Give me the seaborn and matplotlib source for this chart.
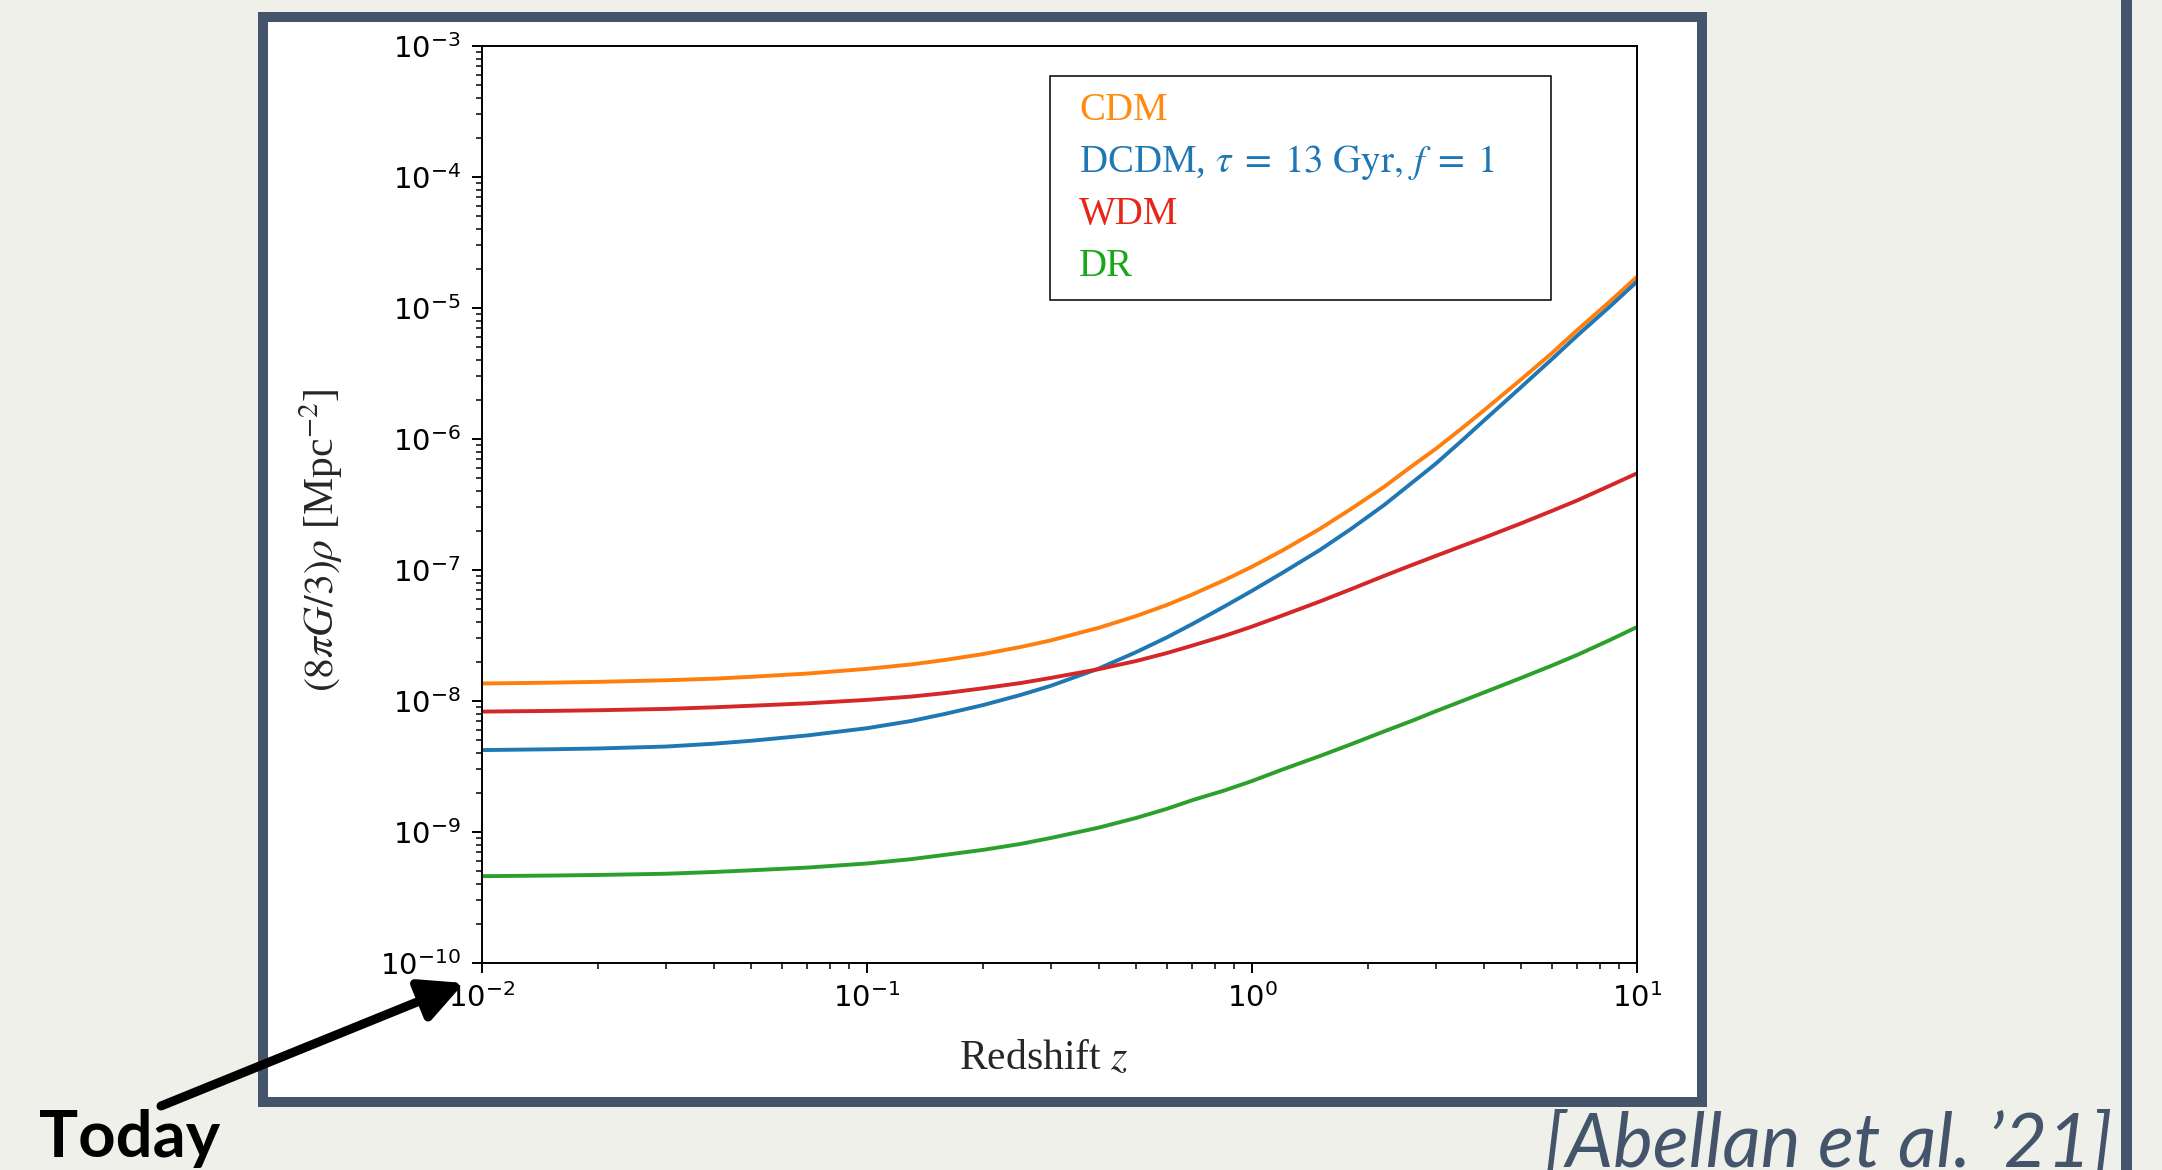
import pandas as pd
import seaborn as sns
import matplotlib.pyplot as plt
from matplotlib.patches import Rectangle, FancyArrowPatch

# values
redshift = [0.01, 0.015, 0.02, 0.03, 0.04, 0.05, 0.07, 0.1, 0.13, 0.16, 0.2,
            0.25, 0.3, 0.4, 0.5, 0.6, 0.7, 0.85, 1.0, 1.2, 1.5, 1.8, 2.2,
            2.6, 3.0, 3.5, 4.0, 5.0, 6.0, 7.0, 8.5, 10.0]
rho_cdm = [1.36e-8, 1.38e-8, 1.40e-8, 1.44e-8, 1.48e-8, 1.53e-8, 1.62e-8,
           1.76e-8, 1.90e-8, 2.06e-8, 2.28e-8, 2.58e-8, 2.90e-8, 3.62e-8,
           4.45e-8, 5.4e-8, 6.5e-8, 8.4e-8, 1.06e-7, 1.41e-7, 2.06e-7,
           2.9e-7, 4.3e-7, 6.2e-7, 8.4e-7, 1.2e-6, 1.65e-6, 2.85e-6,
           4.5e-6, 6.8e-6, 1.12e-5, 1.73e-5]
rho_dcdm = [4.22e-9, 4.28e-9, 4.34e-9, 4.49e-9, 4.72e-9, 4.97e-9, 5.46e-9,
            6.2e-9, 7.03e-9, 7.99e-9, 9.3e-9, 1.11e-8, 1.305e-8, 1.77e-8,
            2.36e-8, 3.05e-8, 3.87e-8, 5.29e-8, 6.94e-8, 9.52e-8, 1.42e-7,
            2.04e-7, 3.12e-7, 4.62e-7, 6.47e-7, 9.66e-7, 1.38e-6, 2.49e-6,
            4.05e-6, 6.17e-6, 1.025e-5, 1.59e-5]
rho_wdm = [8.3e-9, 8.4e-9, 8.5e-9, 8.7e-9, 8.95e-9, 9.2e-9, 9.6e-9, 1.02e-8,
           1.08e-8, 1.15e-8, 1.25e-8, 1.37e-8, 1.50e-8, 1.75e-8, 2.02e-8,
           2.32e-8, 2.65e-8, 3.15e-8, 3.7e-8, 4.5e-8, 5.75e-8, 7.1e-8,
           9.0e-8, 1.09e-7, 1.28e-7, 1.52e-7, 1.76e-7, 2.27e-7, 2.82e-7,
           3.4e-7, 4.4e-7, 5.47e-7]
rho_dr = [4.6e-10, 4.65e-10, 4.7e-10, 4.8e-10, 4.95e-10, 5.1e-10, 5.35e-10,
          5.75e-10, 6.2e-10, 6.7e-10, 7.3e-10, 8.1e-10, 9.0e-10, 1.08e-9,
          1.28e-9, 1.5e-9, 1.75e-9, 2.08e-9, 2.45e-9, 3.0e-9, 3.8e-9,
          4.65e-9, 5.85e-9, 7.05e-9, 8.35e-9, 9.95e-9, 1.16e-8, 1.5e-8,
          1.86e-8, 2.25e-8, 2.92e-8, 3.67e-8]

models = ["CDM", "DCDM", "WDM", "DR"]
labels = ["CDM",
          r"DCDM, $\tau\;=\;13\ \mathrm{Gyr},\, f\;=\;1$",
          "WDM", "DR"]
line_colors = ["#ff7f0e", "#1f77b4", "#d62728", "#2ca02c"]
text_colors = ["#ff8c10", "#1f77b4", "#e8251a", "#1aa81a"]

df = pd.concat([
    pd.DataFrame({"z": redshift, "rho": vals, "model": m})
    for m, vals in zip(models, [rho_cdm, rho_dcdm, rho_wdm, rho_dr])
])

sns.set_style("ticks")
plt.rcParams["font.family"] = ["DejaVu Sans"]

slate = "#44546A"
W, H = 2162, 1170
fig = plt.figure(figsize=(W / 100, H / 100), dpi=100, facecolor="#F0F0EB")

# slide frame and side bar
fig.add_artist(Rectangle((263 / W, 1 - 1102 / H), (1702 - 263) / W, (1102 - 17) / H,
                         transform=fig.transFigure, facecolor="white",
                         edgecolor=slate, lw=7.2, zorder=-5))
fig.add_artist(Rectangle((2121 / W, 0), 11 / W, 1, transform=fig.transFigure,
                         facecolor=slate, edgecolor="none", zorder=-5))

ax = fig.add_axes([482 / W, 1 - 963 / H, (1637 - 482) / W, (963 - 46) / H])
ax.set_facecolor("white")

sns.lineplot(data=df, x="z", y="rho", hue="model", hue_order=models,
             palette=dict(zip(models, line_colors)), lw=2.8,
             errorbar=None, legend=False, ax=ax)
ax.set_xscale("log")
ax.set_yscale("log")
ax.set_xlim(1e-2, 1e1)
ax.set_ylim(1e-10, 1e-3)

for sp in ax.spines.values():
    sp.set_color("black")
    sp.set_linewidth(1.4)
ax.tick_params(which="major", length=7.2, width=1.4, color="black",
               labelsize=21, labelcolor="black")
ax.tick_params(which="minor", length=4.3, width=1.1, color="black")
ax.tick_params(axis="y", which="major", pad=8)
ax.tick_params(axis="x", which="major", pad=7)

serif = dict(fontfamily="Liberation Serif", math_fontfamily="stix", fontsize=30)
ax.set_xlabel(r"Redshift $z$", **serif)
ax.set_ylabel(r"$(8\pi G/3)\rho$ [Mpc$^{-2}$]", **serif)
ax.xaxis.set_label_coords(0.4864, -0.083)
ax.yaxis.set_label_coords(-0.119, 0.461)

# legend box spans a fixed width (expand mode), text only, no handles
leg_x0 = (1050 - 482) / 1155
leg_top = (963 - 76) / 917
ax.legend(handles=ax.lines[:4], labels=labels, loc="upper left",
          bbox_to_anchor=(leg_x0, 0.6, (1551 - 1050) / 1155, leg_top - 0.6),
          mode="expand", borderaxespad=0, handlelength=0, handletextpad=0.35,
          borderpad=0.4, labelspacing=0.37, fancybox=False,
          framealpha=1, edgecolor="black", prop={"size": 28})
leg = ax.get_legend()
leg.get_frame().set_linewidth(1.1)
for h in leg.legend_handles:
    h.set_visible(False)
for t, c in zip(leg.get_texts(), text_colors):
    t.set_color(c)
    t.set_fontfamily("Liberation Serif")
    t.set_math_fontfamily("stix")

# slide annotations
fig.text(39 / W, 1 - 1157 / H, "Today", fontsize=47, fontfamily="Lato",
         fontweight="bold", color="black", va="baseline", ha="left")
fig.text(2112 / W, 1 - 1167 / H, "[Abellan et al. \u201921]", fontsize=54,
         fontfamily="Lato", fontstyle="italic", color=slate,
         va="baseline", ha="right")
fig.add_artist(FancyArrowPatch((161 / W, 1 - 1106 / H), (464 / W, 1 - 983 / H),
                               transform=fig.transFigure,
                               arrowstyle="-|>,head_length=0.36,head_width=0.18",
                               mutation_scale=72, lw=6.5, color="black",
                               shrinkA=0, shrinkB=0, zorder=10))

fig.savefig("out.png", dpi=100, facecolor=fig.get_facecolor())
